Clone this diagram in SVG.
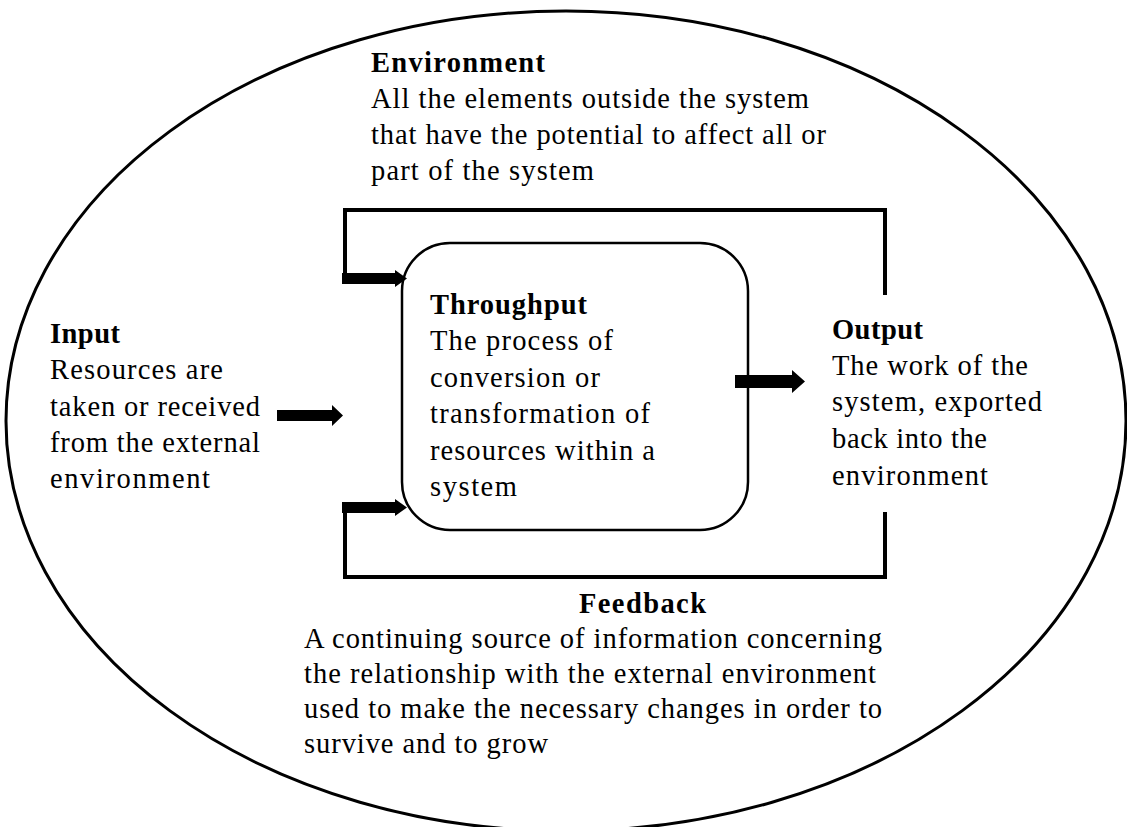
<svg xmlns="http://www.w3.org/2000/svg" width="1127" height="827" viewBox="0 0 1127 827">
<defs>
<style>
text{font-family:"Liberation Serif","Times New Roman",serif;font-size:28.5px;fill:#000}
.b{font-weight:bold}
.ln{fill:none;stroke:#000;stroke-width:4}
.ar{fill:#000;stroke:none}
</style>
</defs>
<rect width="1127" height="827" fill="#fff"/>
<g id="environment">
<ellipse cx="566" cy="421" rx="560" ry="410" fill="none" stroke="#000" stroke-width="3"/>
<text class="b" x="371" y="72" textLength="174" lengthAdjust="spacing">Environment</text>
<text x="371" y="108" textLength="438" lengthAdjust="spacing">All the elements outside the system</text>
<text x="371" y="144" textLength="455" lengthAdjust="spacing">that have the potential to affect all or</text>
<text x="371" y="180" textLength="223" lengthAdjust="spacing">part of the system</text>
</g>
<g id="connectors">
<path class="ln" d="M345 280 V210 H885 V295"/>
<path class="ln" d="M885 512 V577 H345 V506"/>
<path class="ar" d="M342 273 H395 V270 L407 278.5 L395 287 V284 H342 Z"/>
<path class="ar" d="M342 502 H395 V499 L407 507.5 L395 516 V513 H342 Z"/>
<path class="ar" d="M277 410 H332 V405 L343 415.5 L332 426 V421 H277 Z"/>
<path class="ar" d="M735 375 H792 V370 L805 381.5 L792 393 V388 H735 Z"/>
</g>
<g id="throughput">
<rect x="402" y="243" width="346" height="287" rx="48" ry="48" fill="none" stroke="#000" stroke-width="2.5"/>
<text class="b" x="430" y="314" textLength="157" lengthAdjust="spacing">Throughput</text>
<text x="430" y="350" textLength="183" lengthAdjust="spacing">The process of</text>
<text x="430" y="387" textLength="170" lengthAdjust="spacing">conversion or</text>
<text x="430" y="423" textLength="220" lengthAdjust="spacing">transformation of</text>
<text x="430" y="460" textLength="225" lengthAdjust="spacing">resources within a</text>
<text x="430" y="496" textLength="87" lengthAdjust="spacing">system</text>
</g>
<g id="input">
<text class="b" x="50" y="343" textLength="70" lengthAdjust="spacing">Input</text>
<text x="50" y="379" textLength="173" lengthAdjust="spacing">Resources are</text>
<text x="50" y="416" textLength="210" lengthAdjust="spacing">taken or received</text>
<text x="50" y="452" textLength="210" lengthAdjust="spacing">from the external</text>
<text x="50" y="488" textLength="160" lengthAdjust="spacing">environment</text>
</g>
<g id="output">
<text class="b" x="832" y="339" textLength="91" lengthAdjust="spacing">Output</text>
<text x="832" y="375" textLength="196" lengthAdjust="spacing">The work of the</text>
<text x="832" y="411" textLength="210" lengthAdjust="spacing">system, exported</text>
<text x="832" y="448" textLength="155" lengthAdjust="spacing">back into the</text>
<text x="832" y="485" textLength="156" lengthAdjust="spacing">environment</text>
</g>
<g id="feedback">
<text class="b" x="579" y="613" textLength="127" lengthAdjust="spacing">Feedback</text>
<text x="304" y="648" textLength="578" lengthAdjust="spacing">A continuing source of information concerning</text>
<text x="304" y="683" textLength="572" lengthAdjust="spacing">the relationship with the external environment</text>
<text x="304" y="718" textLength="578" lengthAdjust="spacing">used to make the necessary changes in order to</text>
<text x="304" y="753" textLength="244" lengthAdjust="spacing">survive and to grow</text>
</g>
</svg>
